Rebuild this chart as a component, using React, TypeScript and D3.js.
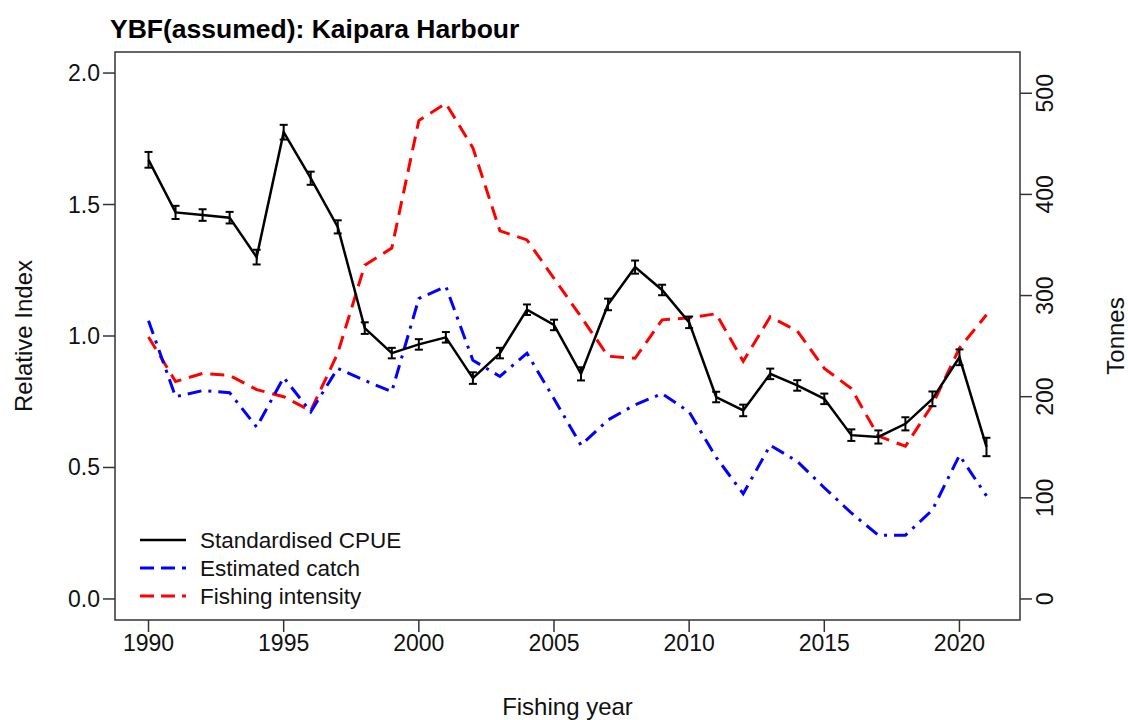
import * as d3 from "d3";

const years = d3.range(1990, 2022);

const cpue = [
  1.67, 1.47, 1.46, 1.45, 1.3, 1.775, 1.6, 1.415, 1.03, 0.935, 0.968, 0.995,
  0.84, 0.935, 1.1, 1.042, 0.856, 1.12, 1.262, 1.175, 1.052, 0.768, 0.717,
  0.856, 0.812, 0.761, 0.623, 0.616, 0.666, 0.761, 0.919, 0.578,
];
const cpueHalf = [
  0.03, 0.025, 0.022, 0.022, 0.028, 0.028, 0.025, 0.025, 0.022, 0.02, 0.02,
  0.02, 0.022, 0.02, 0.02, 0.02, 0.025, 0.022, 0.025, 0.02, 0.022, 0.02,
  0.022, 0.02, 0.02, 0.02, 0.022, 0.025, 0.025, 0.028, 0.03, 0.035,
];
const catchT = [
  275, 200, 206, 204, 170, 219, 185, 228, 216, 205, 297, 309, 236, 220, 243,
  198, 152, 177, 192, 203, 185, 140, 104, 152, 136, 110, 85, 63, 63, 88, 142,
  102,
];
const intensity = [
  259, 215, 223, 221, 207, 200, 186, 243, 330, 347, 473, 490, 446, 364, 355,
  317, 279, 240, 238, 276, 278, 282, 235, 279, 265, 228, 208, 161, 151, 192,
  248, 281,
];

const leftTicks = [0, 0.5, 1, 1.5, 2];
const rightTicks = [0, 100, 200, 300, 400, 500];
const xTicks = [1990, 1995, 2000, 2005, 2010, 2015, 2020];

const legendItems = [
  { label: "Standardised CPUE", color: "#000", dash: "none" },
  { label: "Estimated catch", color: "#0000ff", dash: "14 7" },
  { label: "Fishing intensity", color: "#ff0000", dash: "14 7" },
];

const W = 1128;
const H = 720;
const box = { left: 115, right: 1020, top: 52, bottom: 620 };
const font = "'Liberation Sans', Arial, sans-serif";
const tickSize = 23;
const titleSize = 24;

const App = () => {
  const x = d3.scaleLinear([1988.76, 2022.24], [box.left, box.right]);
  const yL = d3.scaleLinear([-0.08, 2.08], [box.bottom, box.top]);
  const yR = d3.scaleLinear([-20.8, 540.8], [box.bottom, box.top]);

  const lineL = d3.line<number>((d, i) => x(years[i]), (d) => yL(d));
  const lineR = d3.line<number>((d, i) => x(years[i]), (d) => yR(d));

  return (
    <svg
      width={W}
      height={H}
      style={{ position: "absolute", left: 0, top: 0, background: "#fff" }}
      fontFamily={font}
    >
      <text x={110} y={38} fontSize={26.5} fontWeight="bold">
        YBF(assumed): Kaipara Harbour
      </text>

      {/* series */}
      <path
        d={lineR(intensity)!}
        fill="none"
        stroke="#ff0000"
        strokeWidth={3}
        strokeDasharray="14 8"
      />
      <path
        d={lineR(catchT)!}
        fill="none"
        stroke="#0000ff"
        strokeWidth={3}
        strokeDasharray="14 7 3 7"
      />
      <path d={lineL(cpue)!} fill="none" stroke="#000" strokeWidth={2.5} />
      <g stroke="#000" strokeWidth={2}>
        {cpue.map((v, i) => {
          const cx = x(years[i]);
          const lo = yL(v - cpueHalf[i]);
          const hi = yL(v + cpueHalf[i]);
          return (
            <g key={i}>
              <line x1={cx} x2={cx} y1={lo} y2={hi} />
              <line x1={cx - 4} x2={cx + 4} y1={lo} y2={lo} />
              <line x1={cx - 4} x2={cx + 4} y1={hi} y2={hi} />
            </g>
          );
        })}
      </g>

      <rect
        x={box.left}
        y={box.top}
        width={box.right - box.left}
        height={box.bottom - box.top}
        fill="none"
        stroke="#333"
        strokeWidth={1.5}
      />

      {/* x axis */}
      <g stroke="#333" strokeWidth={1.5}>
        {xTicks.map((t) => (
          <line key={t} x1={x(t)} x2={x(t)} y1={box.bottom} y2={box.bottom + 12} />
        ))}
      </g>
      {xTicks.map((t) => (
        <text key={t} x={x(t)} y={651} fontSize={tickSize} textAnchor="middle" fill="#111">
          {t}
        </text>
      ))}
      <text
        x={(box.left + box.right) / 2}
        y={715}
        fontSize={titleSize}
        textAnchor="middle"
        fill="#111"
      >
        Fishing year
      </text>

      {/* left axis */}
      <g stroke="#333" strokeWidth={1.5}>
        {leftTicks.map((t) => (
          <line key={t} x1={box.left - 12} x2={box.left} y1={yL(t)} y2={yL(t)} />
        ))}
      </g>
      {leftTicks.map((t) => (
        <text
          key={t}
          x={box.left - 15}
          y={yL(t) + 8}
          fontSize={tickSize}
          textAnchor="end"
          fill="#111"
        >
          {t.toFixed(1)}
        </text>
      ))}
      <text
        transform={`translate(32, ${(box.top + box.bottom) / 2}) rotate(-90)`}
        fontSize={titleSize}
        textAnchor="middle"
        fill="#111"
      >
        Relative Index
      </text>

      {/* right axis */}
      <g stroke="#333" strokeWidth={1.5}>
        {rightTicks.map((t) => (
          <line key={t} x1={box.right} x2={box.right + 12} y1={yR(t)} y2={yR(t)} />
        ))}
      </g>
      {rightTicks.map((t) => (
        <text
          key={t}
          transform={`translate(1053, ${yR(t)}) rotate(-90)`}
          fontSize={tickSize}
          textAnchor="middle"
          fill="#111"
        >
          {t}
        </text>
      ))}
      <text
        transform={`translate(1124, ${(box.top + box.bottom) / 2}) rotate(-90)`}
        fontSize={titleSize}
        textAnchor="middle"
        fill="#111"
      >
        Tonnes
      </text>

      {/* legend */}
      {legendItems.map((d, i) => {
        const ly = 540 + i * 28;
        return (
          <g key={d.label}>
            <line
              x1={140}
              x2={186}
              y1={ly}
              y2={ly}
              stroke={d.color}
              strokeWidth={d.dash === "none" ? 2.5 : 3}
              strokeDasharray={d.dash}
            />
            <text x={200} y={ly + 8} fontSize={22.5} fill="#111">
              {d.label}
            </text>
          </g>
        );
      })}
    </svg>
  );
};

export default App;
